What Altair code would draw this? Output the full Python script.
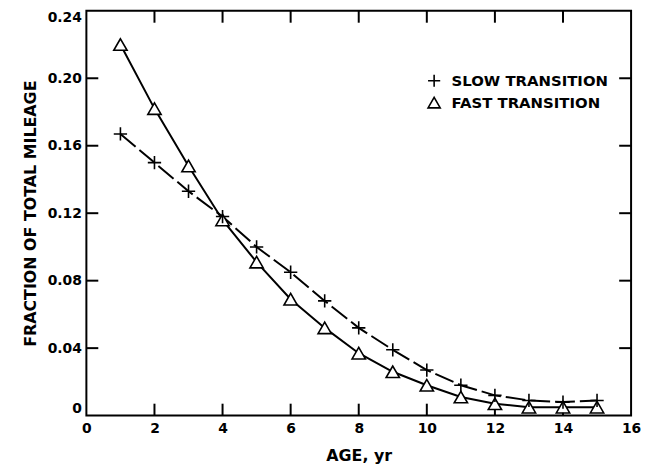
import altair as alt
import pandas as pd

ages = list(range(1, 16))
slow = [0.167, 0.150, 0.133, 0.118, 0.100, 0.085, 0.068, 0.052, 0.039, 0.027, 0.018, 0.012, 0.009, 0.008, 0.009]
fast = [0.220, 0.182, 0.148, 0.116, 0.091, 0.069, 0.052, 0.037, 0.026, 0.018, 0.011, 0.007, 0.005, 0.005, 0.005]
series_names = ["SLOW TRANSITION", "FAST TRANSITION"]
x_ticks = [2, 4, 6, 8, 10, 12, 14]
y_ticks = [0.04, 0.08, 0.12, 0.16, 0.20]

W, H = 549, 408
FONT = "DejaVu Sans"
TL = 12

df = pd.DataFrame({
    "age": ages * 2,
    "frac": slow + fast,
    "series": [series_names[0]] * len(ages) + [series_names[1]] * len(ages),
})
xt = pd.DataFrame({"t": x_ticks})
yt = pd.DataFrame({"t": y_ticks})

xscale = alt.Scale(domain=[0, 16], nice=False, zero=False)
yscale = alt.Scale(domain=[0, 0.24], nice=False)

xenc = alt.X("age:Q", scale=xscale, title="AGE, yr",
             axis=alt.Axis(values=list(range(0, 17, 2)), format="d", ticks=False, domain=False,
                           grid=False, labelPadding=6, titlePadding=12, labelFlush=False))
yenc = alt.Y("frac:Q", scale=yscale, title="FRACTION OF TOTAL MILEAGE",
             axis=alt.Axis(values=[0, 0.04, 0.08, 0.12, 0.16, 0.20, 0.24],
                           labelExpr="datum.value == 0 ? '0' : format(datum.value, '.2f')",
                           ticks=False, domain=False, grid=False, labelPadding=5,
                           titlePadding=9, labelFlush=True))

xq = alt.X("age:Q", scale=xscale)
yq = alt.Y("frac:Q", scale=yscale)

slow_line = alt.Chart(df).transform_filter(alt.datum.series == series_names[0]).mark_line(
    color="black", strokeWidth=2, strokeDash=[20, 5]).encode(x=xenc, y=yenc)
fast_line = alt.Chart(df).transform_filter(alt.datum.series == series_names[1]).mark_line(
    color="black", strokeWidth=2).encode(x=xq, y=yq)

# white fill behind the open triangles so the line stops at their edges
tri_fill = alt.Chart(df).transform_filter(alt.datum.series == series_names[1]).mark_point(
    shape="triangle-up", filled=True, color="white", opacity=1, size=170).encode(x=xq, y=yq)

plus_path = "M-1,0H1M0,-1V1"
points = alt.Chart(df).mark_point(filled=False, color="black", strokeWidth=1.6, opacity=1, size=180).encode(
    x=xq, y=yq,
    shape=alt.Shape("series:N", scale=alt.Scale(domain=series_names, range=[plus_path, "triangle-up"]),
                    legend=alt.Legend(title=None, orient="none", legendX=343, legendY=63,
                                      labelFont=FONT, labelFontSize=15, labelFontWeight="bold",
                                      labelColor="black", labelLimit=300,
                                      symbolStrokeColor="black", symbolStrokeWidth=1.6,
                                      symbolSize=150, rowPadding=3, labelOffset=10)),
)

left_t = alt.Chart(yt).mark_rule(color="black", strokeWidth=2).encode(
    y=alt.Y("t:Q", scale=yscale), x=alt.value(0), x2=alt.value(TL))
right_t = alt.Chart(yt).mark_rule(color="black", strokeWidth=2).encode(
    y=alt.Y("t:Q", scale=yscale), x=alt.value(W - TL), x2=alt.value(W))
top_t = alt.Chart(xt).mark_rule(color="black", strokeWidth=2).encode(
    x=alt.X("t:Q", scale=xscale), y=alt.value(0), y2=alt.value(TL))
bot_t = alt.Chart(xt).mark_rule(color="black", strokeWidth=2).encode(
    x=alt.X("t:Q", scale=xscale), y=alt.value(H - TL), y2=alt.value(H))

chart = alt.layer(left_t, right_t, top_t, bot_t, slow_line, fast_line, tri_fill, points).properties(
    width=W, height=H,
    autosize=alt.AutoSizeParams(type="none"),
    padding={"left": 79, "top": 1, "right": 10, "bottom": 52},
    background="white",
).configure_view(stroke="black", strokeWidth=2).configure_axis(
    labelFont=FONT, labelFontSize=14, labelFontWeight="bold", labelColor="black",
    titleFont=FONT, titleFontSize=16, titleFontWeight="bold", titleColor="black",
)

chart.save("out.html", embed_options={"renderer": "svg", "actions": False})
